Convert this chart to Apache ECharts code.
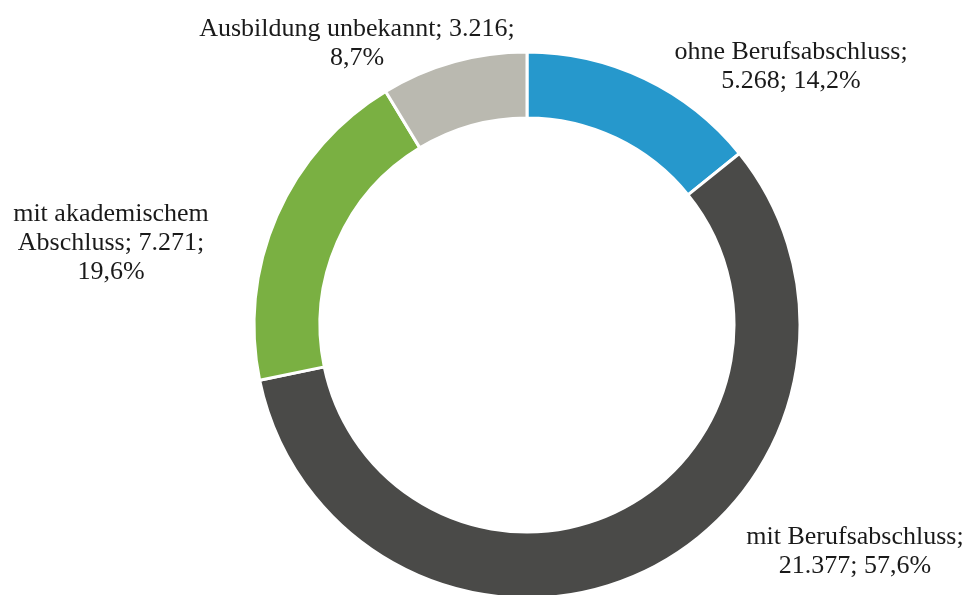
<!DOCTYPE html>
<html>
<head>
    <meta charset="utf-8">
    <title>index</title>
    <style>
        html, body { margin: 0; padding: 0; background: #fff; }
        #container { width: 967px; height: 595px; }
    </style>
</head>
<body>
    <div id="container"></div>
    <script src="https://cdn.jsdelivr.net/npm/echarts@6/dist/echarts.min.js"></script>
    <script type="text/javascript">
    var categories = ['ohne Berufsabschluss', 'mit Berufsabschluss', 'mit akademischem Abschluss', 'Ausbildung unbekannt'];
    var values = [5268, 21377, 7271, 3216];
    var percents = ['14,2%', '57,6%', '19,6%', '8,7%'];
    var colors = ['#2698cc', '#4a4a48', '#7ab042', '#bab9b0'];
    // label text, already broken into lines like the original
    var labelTexts = [
        'ohne Berufsabschluss;\n5.268; 14,2%',
        'mit Berufsabschluss;\n21.377; 57,6%',
        'mit akademischem\nAbschluss; 7.271;\n19,6%',
        'Ausbildung unbekannt; 3.216;\n8,7%'
    ];
    // label block centres
    var labelPos = [[791, 67], [855, 552], [111, 243], [357, 44]];

    var dom = document.getElementById('container');
    var myChart = echarts.init(dom);

    var data = categories.map(function (c, i) {
        return { name: c, value: values[i], itemStyle: { color: colors[i] } };
    });

    var option = {
        backgroundColor: '#fff',
        animation: false,
        series: [{
            type: 'pie',
            center: [527, 325],
            radius: [207, 273],
            startAngle: 90,
            clockwise: true,
            data: data,
            itemStyle: {
                borderColor: '#fff',
                borderWidth: 3
            },
            label: {
                show: true,
                position: 'outside',
                formatter: function (p) {
                    return labelTexts[p.dataIndex];
                },
                fontFamily: 'Liberation Serif',
                fontSize: 26,
                lineHeight: 29,
                color: '#1a1a1a',
                align: 'center'
            },
            labelLine: { show: false },
            labelLayout: function (params) {
                var p = labelPos[params.dataIndex];
                return {
                    x: p[0],
                    y: p[1],
                    align: 'center',
                    verticalAlign: 'middle',
                    hideOverlap: false,
                    moveOverlap: false
                };
            },
            emphasis: { disabled: true }
        }]
    };
    myChart.setOption(option, true);
    </script>
</body>
</html>
